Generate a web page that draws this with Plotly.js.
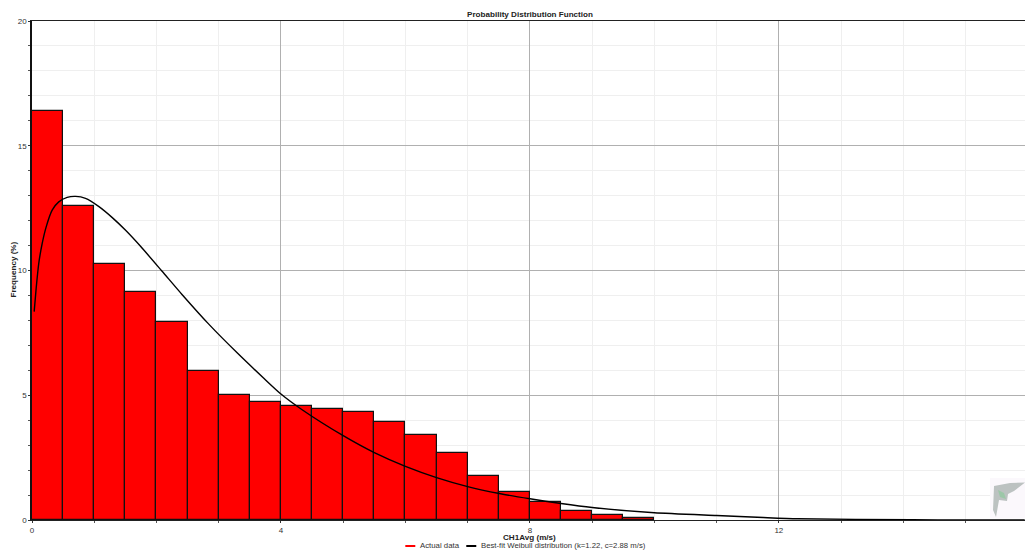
<!DOCTYPE html>
<html>
<head>
<meta charset="utf-8">
<script src="https://cdn.plot.ly/plotly-3.0.1.min.js"></script>
<style>html,body{margin:0;padding:0;background:#fff;overflow:hidden}</style>
</head>
<body>
<div id="chart" style="width:1025px;height:550px"></div>
<script>
const binCenters = [0.25,0.75,1.25,1.75,2.25,2.75,3.25,3.75,4.25,4.75,5.25,5.75,6.25,6.75,7.25,7.75,8.25,8.75,9.25,9.75];
const frequency = [16.40,12.60,10.27,9.13,7.92,5.97,5.03,4.73,4.58,4.45,4.34,3.94,3.39,2.70,1.78,1.12,0.72,0.38,0.20,0.10];
const fitX = [0.035,0.067,0.109,0.164,0.228,0.324,0.43,0.565,0.70,0.86,1.07,1.29,1.50,1.74,2.09,2.41,2.84,3.30,3.72,3.99,4.34,5.0,5.5,6.0,6.5,7.0,7.51,8.0,8.5,9.0,10.0,11.0,11.75,12.3,14.14,15.0,15.95];
const fitY = [8.35,9.29,10.29,11.09,11.75,12.42,12.75,12.93,12.97,12.89,12.57,12.12,11.62,10.98,9.97,9.04,7.85,6.69,5.69,5.07,4.42,3.38,2.7,2.15,1.7,1.34,1.06,0.85,0.66,0.5,0.29,0.18,0.1,0.05,0.01,0.0,0.0];
const titleText = "Probability Distribution Function";
const xTitle = "CH1Avg (m/s)";
const yTitle = "Frequency (%)";
const legendActual = "Actual data";
const legendFit = "Best-fit Weibull distribution (k=1.22, c=2.88 m/s)";
const font = "Liberation Sans, Arial, sans-serif";
const W = 1025, H = 550, mL = 31.5, mR = 0, mT = 21, mB = 30;
const px = v => (v - mL) / (W - mL - mR), py = v => (H - mB - v) / (H - mT - mB);

const traces = [
  {type:"bar", x:binCenters, y:frequency, width:0.5, name:legendActual, showlegend:false,
   marker:{color:"#ff0000", line:{color:"#111111", width:1.2}}},
  {type:"scatter", mode:"lines", x:fitX, y:fitY, name:legendFit, showlegend:false,
   line:{color:"#000000", width:1.4, shape:"spline", smoothing:0.6}}
];

const textNote = (x, y, text, size, color, extra) => Object.assign(
  {xref:"paper", yref:"paper", x:px(x), y:py(y), xanchor:"left", yanchor:"middle", showarrow:false, borderpad:0,
   text:text, font:{family:font, size:size, color:color}}, extra || {});

const layout = {
  width:W, height:H, paper_bgcolor:"#fff", plot_bgcolor:"#fff",
  margin:{l:mL, r:mR, t:mT, b:mB, pad:0},
  showlegend:false, bargap:0, font:{family:font, size:8, color:"#333"},
  title:{text:"<b>"+titleText+"</b>", font:{family:font, size:8.1, color:"#222"}, x:530/W, xanchor:"center", y:1-14.5/H, yanchor:"middle"},
  xaxis:{range:[0,(W-mL)/62.27], tickmode:"linear", tick0:0, dtick:4, showgrid:true, gridcolor:"#b0b0b0", gridwidth:1.4,
    ticks:"outside", ticklen:2, tickcolor:"#333", tickwidth:1, zeroline:false,
    showline:true, linecolor:"#222", linewidth:1.3, mirror:true,
    tickfont:{family:font,size:8,color:"#333"},
    minor:{dtick:1, tick0:0, showgrid:true, gridcolor:"#efefef", gridwidth:1, ticks:"outside", ticklen:2, tickcolor:"#555"}},
  yaxis:{range:[0,20], tickmode:"linear", tick0:0, dtick:5, showgrid:true, gridcolor:"#b0b0b0", gridwidth:1.4,
    ticks:"outside", ticklen:2, tickcolor:"#333", tickwidth:1, zeroline:false,
    showline:true, linecolor:"#111", linewidth:1.5,
    tickfont:{family:font,size:8,color:"#333"},
    minor:{dtick:1, tick0:0, showgrid:true, gridcolor:"#efefef", gridwidth:1, ticks:"outside", ticklen:2, tickcolor:"#555"}},
  annotations:[
    textNote(529.5, 537.5, "<b>"+xTitle+"</b>", 8.1, "#222", {xanchor:"center"}),
    textNote(12, 270, "<b>"+yTitle+"</b>", 8.1, "#222", {xanchor:"center", textangle:-90}),
    textNote(419, 545.5, legendActual, 7.8, "#333"),
    textNote(480, 545.5, legendFit, 7.75, "#333")
  ],
  shapes:[
    {type:"line",xref:"paper",yref:"paper",x0:px(405),x1:px(415),y0:py(546),y1:py(546),line:{color:"#ff0000",width:2}},
    {type:"line",xref:"paper",yref:"paper",x0:px(466),x1:px(476),y0:py(546),y1:py(546),line:{color:"#000000",width:2}},
    {type:"rect",xref:"paper",yref:"paper",x0:px(990),x1:px(1025),y0:py(518.5),y1:py(478),fillcolor:"#fbf8fc",line:{width:0},layer:"above"},
    {type:"path",xref:"paper",yref:"paper",
     path:`M ${px(994)} ${py(486)} L ${px(1010)} ${py(483)} L ${px(1025)} ${py(482.5)} L ${px(1014)} ${py(491)} L ${px(1008)} ${py(494)} L ${px(1007)} ${py(501)} L ${px(999)} ${py(500)} L ${px(996)} ${py(517)} L ${px(993)} ${py(510)} Z`,
     fillcolor:"#bcc2c1",line:{width:0},layer:"above"},
    {type:"path",xref:"paper",yref:"paper",
     path:`M ${px(998)} ${py(490)} L ${px(1004)} ${py(493)} L ${px(1006)} ${py(499)} L ${px(1000)} ${py(497)} Z`,
     fillcolor:"#9cc7a8",line:{width:0},layer:"above"}
  ]
};
Plotly.newPlot("chart", traces, layout, {displayModeBar:false, responsive:false});
</script>
</body>
</html>
